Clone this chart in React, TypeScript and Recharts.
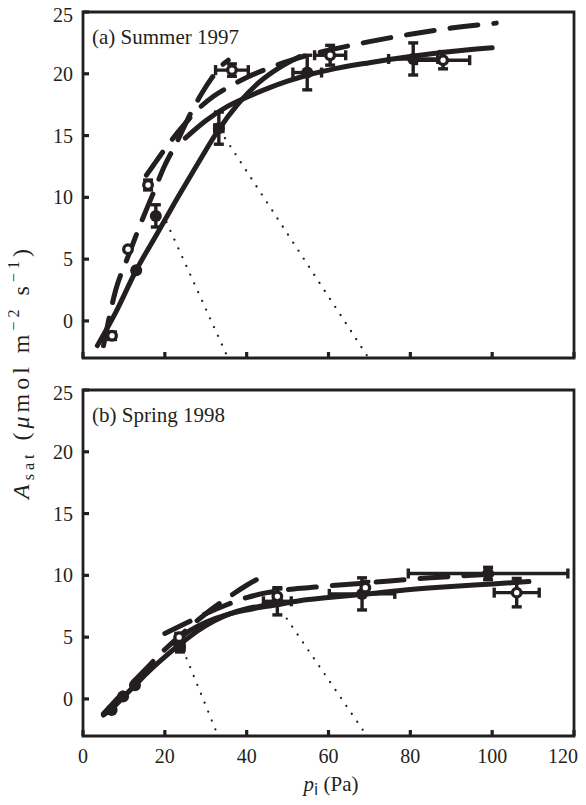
import React from "react";
import { ComposedChart, Line, Scatter, XAxis, YAxis, ErrorBar, ReferenceArea } from "recharts";

const INK = "#231f20";
const SERIF = "'Liberation Serif', 'Times New Roman', serif";

const xTicks = [0, 20, 40, 60, 80, 100, 120];
const yTicks = [0, 5, 10, 15, 20, 25];
const panelTitles = ["(a) Summer 1997", "(b) Spring 1998"];

// ---- (a) Summer 1997 ----
const summerOpen = [
  { x: 7.1, y: -1.2, ey: 0.3 },
  { x: 11, y: 5.8 },
  { x: 15.9, y: 11, ey: 0.4 },
  { x: 36.4, y: 20.3, ex: 4, ey: 0.5 },
  { x: 60.4, y: 21.5, ex: 3.8, ey: 0.8 },
  { x: 88, y: 21.1, ex: 6.5, ey: 0.7 },
];
const summerFilled = [
  { x: 13, y: 4.1 },
  { x: 17.8, y: 8.5, ey: 0.9 },
  { x: 33.2, y: 15.6, ex: 1, ey: 1.3 },
  { x: 54.8, y: 20.1, ex: 3.5, ey: 1.4 },
  { x: 80.7, y: 21.2, ex: 6, ey: 1.3 },
];
const summerAcSolid = [
  { x: 3.5, y: -2 }, { x: 8, y: 0.7 }, { x: 13, y: 4.1 }, { x: 18, y: 7 },
  { x: 23, y: 9.9 }, { x: 28, y: 12.7 }, { x: 33, y: 15.4 }, { x: 38, y: 17.6 },
  { x: 43, y: 19.3 }, { x: 48, y: 20.5 }, { x: 53, y: 21.4 },
];
const summerAjSolid = [
  { x: 25, y: 14.8 }, { x: 30, y: 16.2 }, { x: 35, y: 17.3 }, { x: 40, y: 18.1 },
  { x: 45, y: 18.8 }, { x: 50, y: 19.4 }, { x: 55, y: 19.9 }, { x: 60, y: 20.3 },
  { x: 70, y: 20.9 }, { x: 80, y: 21.4 }, { x: 90, y: 21.8 }, { x: 100, y: 22.1 },
];
const summerAcDash = [
  { x: 5, y: -2 }, { x: 8, y: 2.5 }, { x: 11, y: 5.2 }, { x: 14, y: 7.8 },
  { x: 17, y: 10.2 }, { x: 20, y: 12.6 }, { x: 23, y: 14.5 }, { x: 26, y: 16.6 },
  { x: 29, y: 18.4 }, { x: 32, y: 19.9 }, { x: 34, y: 20.7 }, { x: 35.5, y: 21.1 },
];
const summerAjDash = [
  { x: 15.5, y: 11.8 }, { x: 17, y: 12.5 }, { x: 20, y: 13.9 }, { x: 24, y: 15.6 },
  { x: 28, y: 17.1 }, { x: 32, y: 18.2 }, { x: 36, y: 19 }, { x: 40, y: 19.7 },
  { x: 45, y: 20.4 }, { x: 50, y: 21 }, { x: 55, y: 21.5 }, { x: 60, y: 21.9 },
  { x: 70, y: 22.6 }, { x: 80, y: 23.2 }, { x: 90, y: 23.7 }, { x: 101, y: 24.1 },
];
const summerSupply1 = [{ x: 20.4, y: 8 }, { x: 35.3, y: -2.9 }];
const summerSupply2 = [{ x: 34.7, y: 14.8 }, { x: 69.6, y: -2.9 }];

// ---- (b) Spring 1998 ----
const springOpen = [
  { x: 23.5, y: 5.0, ey: 0.3 },
  { x: 47.5, y: 8.3, ey: 0.6 },
  { x: 69, y: 9.0, ey: 0.5 },
  { x: 106, y: 8.6, ex: 5.5, ey: 1.15 },
];
const springFilled = [
  { x: 7, y: -0.9 },
  { x: 9.8, y: 0.2 },
  { x: 12.7, y: 1.1 },
  { x: 23.7, y: 4.2, ex: 1, ey: 0.4 },
  { x: 47.5, y: 7.9, ex: 3.4, ey: 1.1 },
  { x: 68.2, y: 8.5, ex: 8, ey: 1.3 },
  { x: 99, y: 10.15, ex: 19.5, ey: 0.5 },
];
const springAcSolid = [
  { x: 5, y: -1.3 }, { x: 7, y: -0.8 }, { x: 10, y: 0.2 }, { x: 13, y: 1.2 },
  { x: 16, y: 2.2 }, { x: 20, y: 3.4 }, { x: 24, y: 4.5 }, { x: 28, y: 5.5 },
  { x: 32, y: 6.3 }, { x: 36, y: 6.9 }, { x: 40, y: 7.3 }, { x: 45, y: 7.6 }, { x: 48, y: 7.8 },
];
const springAjSolid = [
  { x: 22, y: 4.5 }, { x: 26, y: 5.5 }, { x: 30, y: 6.2 }, { x: 35, y: 6.8 },
  { x: 40, y: 7.2 }, { x: 47, y: 7.6 }, { x: 53, y: 7.95 }, { x: 60, y: 8.2 },
  { x: 68, y: 8.45 }, { x: 80, y: 8.85 }, { x: 90, y: 9.1 }, { x: 100, y: 9.3 }, { x: 109, y: 9.5 },
];
const springAcDash = [
  { x: 5, y: -1.2 }, { x: 10, y: 0.6 }, { x: 15, y: 2.3 }, { x: 20, y: 4.0 },
  { x: 25, y: 5.5 }, { x: 30, y: 6.9 }, { x: 35, y: 8.1 }, { x: 40, y: 9.2 }, { x: 45, y: 10.1 },
];
const springAjDash = [
  { x: 20, y: 5.3 }, { x: 25, y: 6.1 }, { x: 30, y: 6.9 }, { x: 35, y: 7.6 },
  { x: 40, y: 8.2 }, { x: 45, y: 8.6 }, { x: 50, y: 8.85 }, { x: 55, y: 9.0 },
  { x: 60, y: 9.15 }, { x: 66, y: 9.3 }, { x: 75, y: 9.55 }, { x: 85, y: 9.8 },
  { x: 95, y: 10.0 }, { x: 101, y: 10.1 },
];
const springSupply1 = [{ x: 25.3, y: 3.3 }, { x: 32.9, y: -2.9 }];
const springSupply2 = [{ x: 49.8, y: 6.5 }, { x: 69.2, y: -2.9 }];

const FilledDot = (p: any) => <circle cx={p.cx} cy={p.cy} r={6} fill={INK} />;
const OpenDot = (p: any) => (
  <circle cx={p.cx} cy={p.cy} r={4.3} fill="#fff" stroke={INK} strokeWidth={3.3} />
);

const makeXTick = (show: boolean) => (p: any) => {
  if (!show) return <g />;
  const v = p.payload.value;
  const last = v === 120;
  return (
    <text x={last ? p.x + 4 : p.x} y={p.y} dy="0.71em" textAnchor={last ? "end" : "middle"}
      fill={INK} fontSize={20} fontFamily={SERIF}>{v}</text>
  );
};
const YTick = (p: any) => (
  <text x={p.x} y={p.payload.value === 25 ? p.y + 3 : p.y} dy="0.355em" textAnchor="end"
    fill={INK} fontSize={20} fontFamily={SERIF}>
    {p.payload.value}
  </text>
);

function Panel(props: any) {
  const { h, mt, xh, showX, open, filled, acS, ajS, acD, ajD, s1, s2 } = props;
  const lineCommon = { dataKey: "y", dot: false, isAnimationActive: false, stroke: INK, strokeLinecap: "round" as const };
  const eb = { width: 5, strokeWidth: 3.4, stroke: INK };
  return (
    <ComposedChart width={578} height={h} margin={{ top: mt, right: 12, left: 0, bottom: 0 }} style={{ fontFamily: SERIF }}>
      <XAxis
        type="number" dataKey="x" domain={[0, 120]} ticks={xTicks} allowDataOverflow
        axisLine={false} tickSize={-6} tickMargin={showX ? 19 : 0} height={xh}
        tickLine={{ stroke: INK, strokeWidth: 3.2 }}
        tick={makeXTick(showX)}
      />
      <YAxis
        type="number" dataKey="y" domain={[-3, 25]} ticks={yTicks} allowDataOverflow
        axisLine={false} tickSize={-6} tickMargin={16} width={75}
        tickLine={{ stroke: INK, strokeWidth: 3.2 }}
        tick={YTick}
      />
      <ReferenceArea x1={0} x2={120} y1={-3} y2={25} fill="none" stroke={INK} strokeWidth={2.8} ifOverflow="visible" />
      <Line {...lineCommon} data={s1} type="linear" strokeWidth={2.2} strokeDasharray="0.1 9.5" />
      <Line {...lineCommon} data={s2} type="linear" strokeWidth={2.2} strokeDasharray="0.1 9.5" />
      <Line {...lineCommon} data={acS} type="monotone" strokeWidth={5} />
      <Line {...lineCommon} data={ajS} type="monotone" strokeWidth={5} />
      <Line {...lineCommon} data={acD} type="monotone" strokeWidth={5} strokeDasharray="28 16" />
      <Line {...lineCommon} data={ajD} type="monotone" strokeWidth={5} strokeDasharray="28 16" />
      <Scatter data={filled} dataKey="y" isAnimationActive={false} shape={FilledDot}>
        <ErrorBar dataKey="ey" direction="y" {...eb} />
        <ErrorBar dataKey="ex" direction="x" {...eb} />
      </Scatter>
      <Scatter data={open} dataKey="y" isAnimationActive={false} shape={OpenDot}>
        <ErrorBar dataKey="ey" direction="y" {...eb} />
        <ErrorBar dataKey="ex" direction="x" {...eb} />
      </Scatter>
    </ComposedChart>
  );
}

const titleStyle: React.CSSProperties = {
  position: "absolute", fontFamily: SERIF, fontSize: 21, color: INK, whiteSpace: "nowrap", lineHeight: 1,
};

export default function App() {
  return (
    <div style={{ position: "relative", width: 578, height: 789, fontFamily: SERIF, color: INK }}>
      <div style={{ position: "absolute", left: 0, top: -8 }}>
        <Panel h={388} mt={12} xh={30} showX={false}
          open={summerOpen} filled={summerFilled}
          acS={summerAcSolid} ajS={summerAjSolid} acD={summerAcDash} ajD={summerAjDash}
          s1={summerSupply1} s2={summerSupply2} />
      </div>
      <div style={{ position: "absolute", left: 0, top: 372 }}>
        <Panel h={413} mt={10} xh={57} showX={true}
          open={springOpen} filled={springFilled}
          acS={springAcSolid} ajS={springAjSolid} acD={springAcDash} ajD={springAjDash}
          s1={springSupply1} s2={springSupply2} />
      </div>
      <div style={{ ...titleStyle, left: 84, top: 19 }}>{panelTitles[0]}</div>
      <div style={{ ...titleStyle, left: 84, top: 397 }}>{panelTitles[1]}</div>
      <div
        style={{
          position: "absolute", left: 13, top: 364, transform: "translate(-50%, -50%) rotate(-90deg)",
          whiteSpace: "nowrap", fontSize: 24, lineHeight: 1, letterSpacing: 4,
        }}
      >
        <i>A</i>
        <span style={{ fontSize: 16, position: "relative", top: 5 }}>sat</span> (<i>μ</i>mol m
        <span style={{ fontSize: 16, position: "relative", top: -10 }}>−2</span> s
        <span style={{ fontSize: 16, position: "relative", top: -10 }}>−1</span>)
      </div>
      <div
        style={{
          position: "absolute", left: 323, top: 766, transform: "translateX(-50%)",
          whiteSpace: "nowrap", fontSize: 21, lineHeight: 1,
        }}
      >
        <i>p</i>
        <span style={{ fontSize: 15, position: "relative", top: 4, fontFamily: "'DejaVu Sans', sans-serif" }}>i</span> (Pa)
      </div>
    </div>
  );
}
